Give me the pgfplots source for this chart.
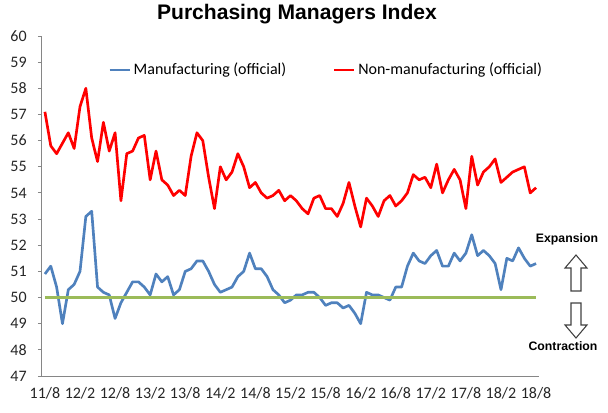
\documentclass[border=0pt]{standalone}
\usepackage{pgfplots}
\pgfplotsset{compat=1.18}
\usepackage{pgfplotstable}
\usepackage{fontspec}
\setmainfont{Carlito}
\newfontfamily\arialfont{Liberation Sans}
\definecolor{mfgblue}{HTML}{4F81BD}
\definecolor{linegreen}{HTML}{9BBB59}
\definecolor{axisgray}{HTML}{868686}
\definecolor{arrowgray}{HTML}{404040}

\pgfplotstableread{
x mfg non
0 50.9 57.1
1 51.2 55.8
2 50.4 55.5
3 49.0 55.9
4 50.3 56.3
5 50.5 55.7
6 51.0 57.3
7 53.1 58.0
8 53.3 56.1
9 50.4 55.2
10 50.2 56.7
11 50.1 55.6
12 49.2 56.3
13 49.8 53.7
14 50.2 55.5
15 50.6 55.6
16 50.6 56.1
17 50.4 56.2
18 50.1 54.5
19 50.9 55.6
20 50.6 54.5
21 50.8 54.3
22 50.1 53.9
23 50.3 54.1
24 51.0 53.9
25 51.1 55.4
26 51.4 56.3
27 51.4 56.0
28 51.0 54.6
29 50.5 53.4
30 50.2 55.0
31 50.3 54.5
32 50.4 54.8
33 50.8 55.5
34 51.0 55.0
35 51.7 54.2
36 51.1 54.4
37 51.1 54.0
38 50.8 53.8
39 50.3 53.9
40 50.1 54.1
41 49.8 53.7
42 49.9 53.9
43 50.1 53.7
44 50.1 53.4
45 50.2 53.2
46 50.2 53.8
47 50.0 53.9
48 49.7 53.4
49 49.8 53.4
50 49.8 53.1
51 49.6 53.6
52 49.7 54.4
53 49.4 53.5
54 49.0 52.7
55 50.2 53.8
56 50.1 53.5
57 50.1 53.1
58 50.0 53.7
59 49.9 53.9
60 50.4 53.5
61 50.4 53.7
62 51.2 54.0
63 51.7 54.7
64 51.4 54.5
65 51.3 54.6
66 51.6 54.2
67 51.8 55.1
68 51.2 54.0
69 51.2 54.5
70 51.7 54.9
71 51.4 54.5
72 51.7 53.4
73 52.4 55.4
74 51.6 54.3
75 51.8 54.8
76 51.6 55.0
77 51.3 55.3
78 50.3 54.4
79 51.5 54.6
80 51.4 54.8
81 51.9 54.9
82 51.5 55.0
83 51.2 54.0
84 51.3 54.2
}\pmidata

\begin{document}
\begin{tikzpicture}[x=0.75pt,y=0.75pt]
\useasboundingbox (0,0) rectangle (608,412);
\begin{axis}[
  at={(31.5pt,27pt)}, anchor=south west,
  scale only axis, width=372.75pt, height=255pt,
  xmin=-0.5, xmax=84.5, ymin=47, ymax=60,
  axis x line*=bottom, axis y line*=left,
  axis line style={axisgray, line width=0.75pt},
  ytick={47,48,...,60},
  xtick={0,6,...,84},
  xticklabels={11/8,12/2,12/8,13/2,13/8,14/2,14/8,15/2,15/8,16/2,16/8,17/2,17/8,18/2,18/8},
  x tick style={draw=none},
  y tick style={axisgray, line width=0.75pt},
  ytick align=outside, major tick length=3pt,
  /pgf/number format/assume math mode=true,
  ticklabel style={font=\fontsize{12}{14}\selectfont, text=black!85},
  xticklabel style={yshift=-5pt},
  yticklabel style={xshift=-5pt},
  legend style={at={(0.133,0.9)}, anchor=west, draw=none, fill=none,
    inner sep=0pt, font=\fontsize{12}{14}\selectfont,
    /tikz/every even column/.append style={column sep=33pt}},
  legend columns=2,
  legend image code/.code={\draw[#1] (0pt,0pt) -- (15pt,0pt);},
  clip=false,
]
\addplot[mfgblue, line width=2pt, line join=round] table[x=x, y=mfg] {\pmidata};
\addlegendentry{Manufacturing (official)}
\addplot[red, line width=2pt, line join=round] table[x=x, y=non] {\pmidata};
\addlegendentry{Non-manufacturing (official)}
\addplot[linegreen, line width=2pt, forget plot] coordinates {(0,50) (84,50)};
\end{axis}
\node[font=\arialfont\bfseries\fontsize{15.8}{18}\selectfont] at (297,398) {Purchasing Managers Index};
\node[font=\arialfont\bfseries\fontsize{9.2}{11}\selectfont] at (567,173) {Expansion};
\node[font=\arialfont\bfseries\fontsize{9.2}{11}\selectfont] at (563,66) {Contraction};
\draw[arrowgray, line width=0.8pt, line join=miter] (571,121) -- (581,121) -- (581,144) -- (587,144) -- (576,157) -- (565,144) -- (571,144) -- cycle;
\draw[arrowgray, line width=0.8pt, line join=miter] (571,109) -- (581,109) -- (581,87) -- (587,87) -- (576,74) -- (565,87) -- (571,87) -- cycle;
\end{tikzpicture}
\end{document}
